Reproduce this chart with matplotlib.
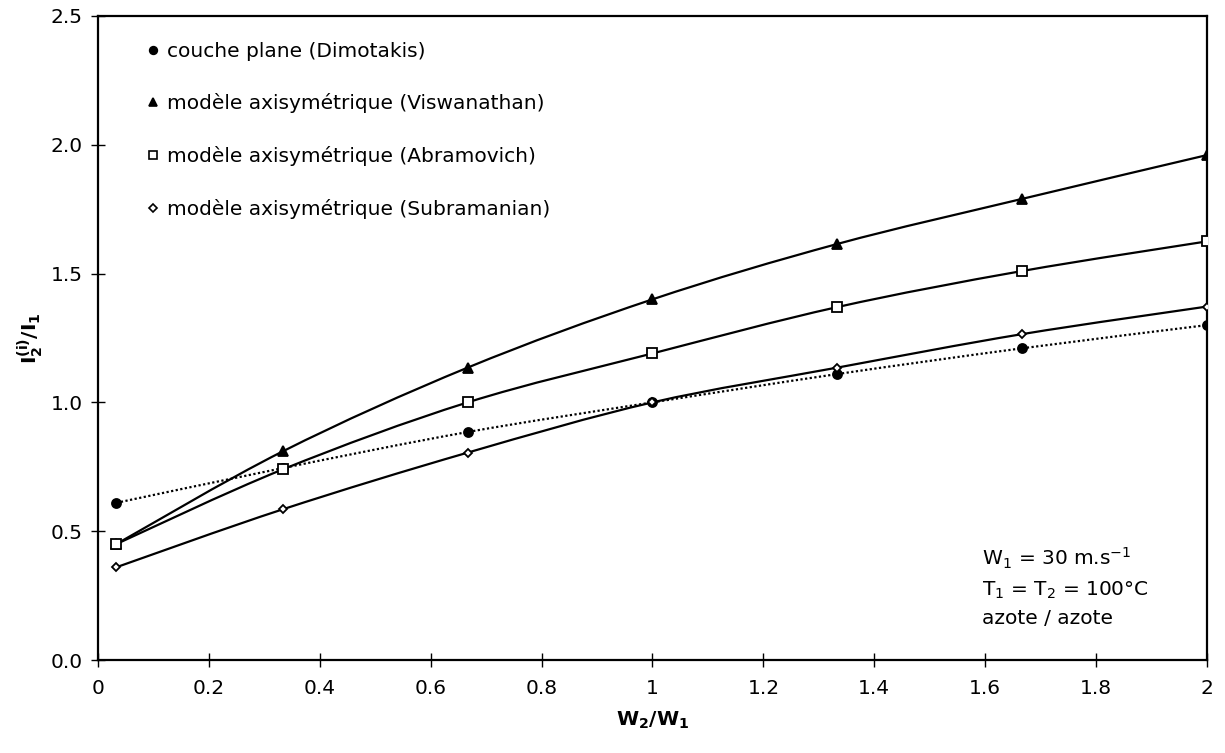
import matplotlib
matplotlib.use("Agg")
import matplotlib.pyplot as plt
from matplotlib.path import Path
from matplotlib.patches import PathPatch
from matplotlib.lines import Line2D

plt.rcParams['font.family'] = ['DejaVu Sans']
plt.rcParams['mathtext.fontset'] = 'dejavusans'

# ---- data ----
x_ratio = [0.033, 1/3, 2/3, 1.0, 4/3, 5/3, 2.0]
dimotakis = [0.61, 0.745, 0.885, 1.0, 1.11, 1.21, 1.30]
viswanathan = [0.45, 0.81, 1.135, 1.40, 1.615, 1.79, 1.96]
abramovich = [0.45, 0.74, 1.0, 1.19, 1.37, 1.51, 1.625]
subramanian = [0.36, 0.585, 0.805, 1.0, 1.135, 1.265, 1.372]

labels = ['couche plane (Dimotakis)',
          'modèle axisymétrique (Viswanathan)',
          'modèle axisymétrique (Abramovich)',
          'modèle axisymétrique (Subramanian)']
xticks = [0, 0.2, 0.4, 0.6, 0.8, 1.0, 1.2, 1.4, 1.6, 1.8, 2.0]
xticklabels = ['0', '0.2', '0.4', '0.6', '0.8', '1', '1.2', '1.4', '1.6', '1.8', '2']
yticks = [0.0, 0.5, 1.0, 1.5, 2.0, 2.5]

FS = 14.5


def smooth_path(xs, ys):
    """Excel-like smoothed line: cubic Bezier segments through the data points."""
    pts = list(zip(xs, ys))
    n = len(pts)
    verts = [pts[0]]
    codes = [Path.MOVETO]
    for i in range(n - 1):
        p0 = pts[i - 1] if i > 0 else pts[i]
        p1 = pts[i]
        p2 = pts[i + 1]
        p3 = pts[i + 2] if i + 2 < n else pts[i + 1]
        c1 = (p1[0] + (p2[0] - p0[0]) / 6, p1[1] + (p2[1] - p0[1]) / 6)
        c2 = (p2[0] - (p3[0] - p1[0]) / 6, p2[1] - (p3[1] - p1[1]) / 6)
        verts += [c1, c2, p2]
        codes += [Path.CURVE4] * 3
    return Path(verts, codes)


fig = plt.figure(figsize=(12.25, 7.53), dpi=100)
ax = fig.add_axes([0.080, 0.1235, 0.9053, 0.8553])

series = [
    (dimotakis, 'o', 'black', (0, (1, 1.1)), 6.5),
    (viswanathan, '^', 'black', '-', 6.5),
    (abramovich, 's', 'white', '-', 6.5),
    (subramanian, 'D', 'white', '-', 4.5),
]

for ys, mk, fc, ls, ms in series:
    patch = PathPatch(smooth_path(x_ratio, ys), facecolor='none', edgecolor='black',
                      linewidth=1.6, linestyle=ls, zorder=2)
    ax.add_patch(patch)
    ax.plot(x_ratio, ys, linestyle='none', marker=mk, markersize=ms,
            markerfacecolor=fc, markeredgecolor='black', markeredgewidth=1.3, zorder=3)

handles = [Line2D([], [], linestyle='none', marker=mk, markersize=ms * 0.85,
                  markerfacecolor=fc, markeredgecolor='black', markeredgewidth=1.2)
           for _, mk, fc, _, ms in series]
ax.legend(handles, labels, loc='upper left', bbox_to_anchor=(0.044, 0.960),
          frameon=False, fontsize=FS, handlelength=0.6, handletextpad=0.4,
          labelspacing=1.62, borderpad=0, borderaxespad=0)

ax.text(0.797, 0.178, r'W$_1$ = 30 m.s$^{-1}$' + '\n' + r'T$_1$ = T$_2$ = 100°C' + '\n' + 'azote / azote',
        transform=ax.transAxes, fontsize=FS, va='top', ha='left', linespacing=1.55)

ax.set_xlim(0, 2)
ax.set_ylim(0, 2.5)
ax.set_xticks(xticks)
ax.set_xticklabels(xticklabels)
ax.set_yticks(yticks)
ax.set_yticklabels([f'{v:.1f}' for v in yticks])
ax.tick_params(direction='inout', length=10, width=1, labelsize=FS, pad=6)
ax.tick_params(axis='x', pad=9)
for s in ax.spines.values():
    s.set_linewidth(1.6)

ax.set_xlabel(r'$\mathbf{W_2/W_1}$', fontsize=FS, labelpad=8)
ax.set_ylabel(r'$\mathbf{I_2^{(i)}/I_1}$', fontsize=FS, labelpad=4)

fig.savefig('out.png', dpi=100)
